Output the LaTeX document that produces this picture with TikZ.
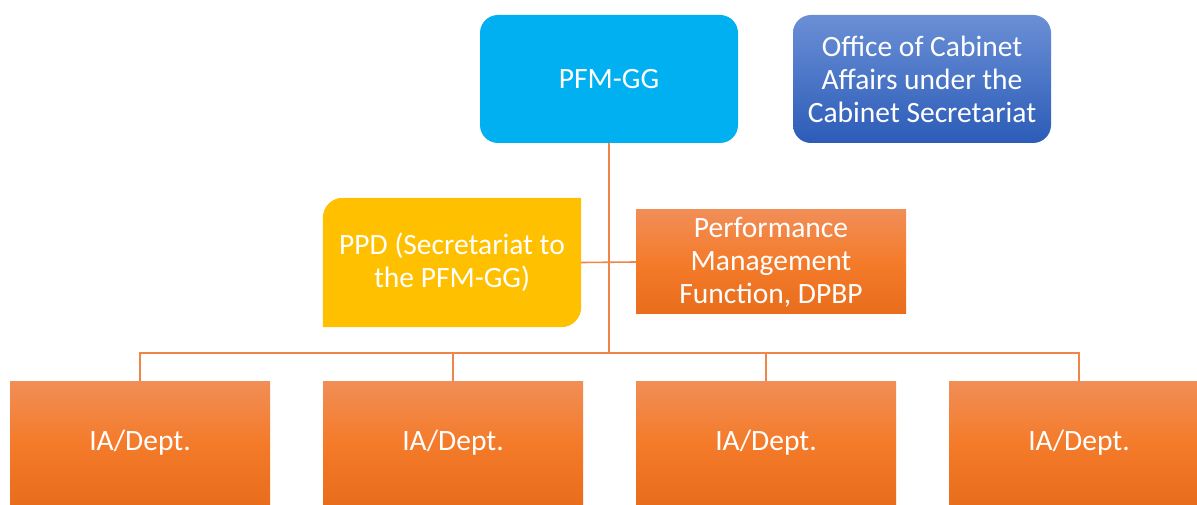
\documentclass[tikz,border=0pt]{standalone}
\usepackage{fontspec}
\setmainfont{Carlito}
\usetikzlibrary{calc,backgrounds}
\definecolor{skyblue}{HTML}{00B0F0}
\definecolor{officetop}{HTML}{6A8FD5}
\definecolor{officebot}{HTML}{2C5CB8}
\definecolor{ppdyellow}{HTML}{FFC000}
\definecolor{orgtop}{HTML}{F18E57}
\definecolor{orgmid}{HTML}{F47B2A}
\definecolor{orgbot}{HTML}{E86D1C}
\definecolor{linkorange}{HTML}{F08547}
\tikzset{
  boxtext/.style={text=white, align=center, inner sep=0pt,
    font=\fontsize{29.5}{33}\selectfont},
  roundbox/.style={boxtext, rounded corners=18, minimum width=258, minimum height=128},
  orangebox/.style={boxtext, top color=orgtop, bottom color=orgbot, middle color=orgmid},
  link/.style={draw=linkorange, line width=1.6pt}
}
\begin{document}
\begin{tikzpicture}[x=1pt,y=1pt]
\useasboundingbox (0,0) rectangle (1197,504);

% top row
\node[roundbox, fill=skyblue] (pfm) at (609,425) {PFM-GG};
\node[roundbox, top color=officetop, bottom color=officebot] (office) at (922,425)
  {Office of Cabinet\\Affairs under the\\Cabinet Secretariat};

% middle row
\node[boxtext, minimum width=258, minimum height=129] (ppd) at (452,241.5)
  {PPD (Secretariat to\\the PFM-GG)};
\node[orangebox, minimum width=270, minimum height=104] (perf) at (771,242)
  {Performance\\Management\\Function, DPBP};
\begin{scope}[on background layer]
  \fill[ppdyellow] (ppd.south west) -- ($(ppd.north west)+(0,-20)$)
    arc(180:90:20) -- (ppd.north east) -- ($(ppd.south east)+(0,20)$)
    arc(0:-90:20) -- cycle;
\end{scope}

% bottom row
\foreach \i/\x in {1/140,2/453,3/766,4/1079}
  \node[orangebox, minimum width=260, minimum height=123] (ia\i) at (\x,61.5) {IA/Dept.};

% connectors
\coordinate (bus) at (609,151);
\draw[link] (pfm.south) -- (bus);
\draw[link] (ppd.east) -- (perf.west);
\draw[link] (ia1.north) -- (ia1.north |- bus) -- (ia4.north |- bus) -- (ia4.north);
\draw[link] (ia2.north) -- (ia2.north |- bus);
\draw[link] (ia3.north) -- (ia3.north |- bus);
\end{tikzpicture}
\end{document}
